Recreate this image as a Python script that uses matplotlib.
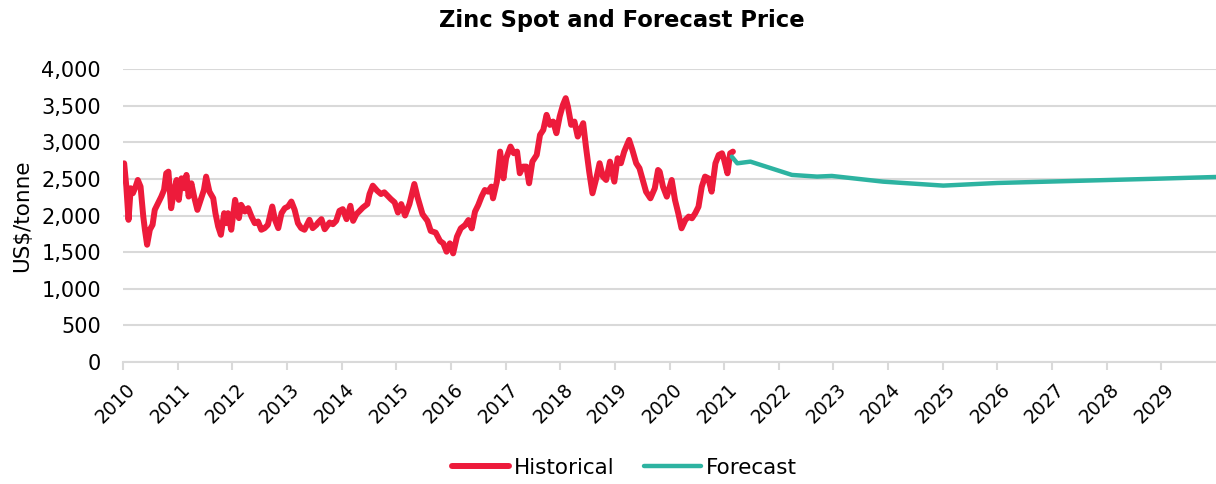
import numpy as np
import matplotlib.pyplot as plt
import matplotlib.transforms as mtransforms

# spot price (US$/tonne), x in decimal years
hist_years = [
    2010.02, 2010.06, 2010.10, 2010.14, 2010.18, 2010.23, 2010.27, 2010.32, 2010.37, 2010.40,
    2010.44, 2010.49, 2010.54, 2010.58, 2010.64, 2010.70, 2010.75, 2010.79, 2010.83, 2010.88,
    2010.93, 2010.98, 2011.02, 2011.07, 2011.12, 2011.16, 2011.20, 2011.25, 2011.30, 2011.36,
    2011.42, 2011.48, 2011.52, 2011.58, 2011.65, 2011.69, 2011.74, 2011.79, 2011.85, 2011.89,
    2011.92, 2011.98, 2012.05, 2012.12, 2012.16, 2012.23, 2012.29, 2012.35, 2012.41, 2012.47,
    2012.53, 2012.59, 2012.65, 2012.73, 2012.78, 2012.84, 2012.90, 2012.96, 2013.02, 2013.08,
    2013.14, 2013.20, 2013.26, 2013.32, 2013.41, 2013.47, 2013.54, 2013.57, 2013.63, 2013.69,
    2013.78, 2013.84, 2013.90, 2013.96, 2014.02, 2014.09, 2014.16, 2014.21, 2014.27, 2014.33,
    2014.39, 2014.47, 2014.51, 2014.57, 2014.65, 2014.72, 2014.78, 2014.84, 2014.90, 2014.97,
    2015.03, 2015.09, 2015.16, 2015.24, 2015.33, 2015.39, 2015.48, 2015.57, 2015.63, 2015.72,
    2015.80, 2015.86, 2015.92, 2015.98, 2016.04, 2016.11, 2016.18, 2016.26, 2016.32, 2016.38,
    2016.44, 2016.50, 2016.56, 2016.62, 2016.68, 2016.74, 2016.77, 2016.84, 2016.90, 2016.96,
    2017.01, 2017.09, 2017.15, 2017.21, 2017.26, 2017.32, 2017.38, 2017.43, 2017.49, 2017.57,
    2017.63, 2017.69, 2017.75, 2017.81, 2017.87, 2017.93, 2017.99, 2018.05, 2018.10, 2018.14,
    2018.20, 2018.26, 2018.32, 2018.38, 2018.42, 2018.47, 2018.53, 2018.59, 2018.66, 2018.72,
    2018.78, 2018.84, 2018.91, 2018.99, 2019.05, 2019.11, 2019.17, 2019.26, 2019.32, 2019.39,
    2019.45, 2019.51, 2019.57, 2019.65, 2019.73, 2019.79, 2019.82, 2019.88, 2019.95, 2020.04,
    2020.10, 2020.16, 2020.22, 2020.29, 2020.35, 2020.41, 2020.47, 2020.53, 2020.59, 2020.65,
    2020.71, 2020.77, 2020.84, 2020.90, 2020.96, 2021.00, 2021.06, 2021.11, 2021.16,
]
hist_price = [
    2714, 2395, 1941, 2373, 2305, 2395, 2486, 2395, 1986, 1805,
    1600, 1805, 1873, 2077, 2168, 2259, 2350, 2577, 2600, 2100,
    2327, 2486, 2214, 2509, 2373, 2555, 2259, 2441, 2259, 2077,
    2214, 2350, 2532, 2327, 2236, 2032, 1850, 1736, 2032, 1895,
    2032, 1805, 2214, 1964, 2146, 2055, 2100, 1986, 1895, 1918,
    1805, 1827, 1873, 2123, 1941, 1827, 2032, 2100, 2123, 2191,
    2077, 1895, 1827, 1805, 1941, 1827, 1873, 1904, 1950, 1812,
    1904, 1881, 1927, 2064, 2087, 1950, 2133, 1927, 2018, 2064,
    2110, 2156, 2294, 2408, 2339, 2294, 2317, 2271, 2225, 2179,
    2041, 2156, 2000, 2156, 2431, 2248, 2018, 1927, 1789, 1766,
    1651, 1619, 1505, 1619, 1482, 1710, 1824, 1870, 1938, 1824,
    2052, 2144, 2258, 2349, 2326, 2395, 2235, 2463, 2874, 2509,
    2783, 2943, 2852, 2874, 2578, 2669, 2669, 2441, 2737, 2829,
    3103, 3171, 3377, 3240, 3285, 3126, 3354, 3514, 3605, 3491,
    3240, 3285, 3080, 3194, 3263, 2943, 2600, 2304, 2509, 2715,
    2532, 2486, 2737, 2463, 2783, 2715, 2874, 3034, 2897, 2715,
    2646, 2486, 2326, 2235, 2372, 2623, 2600, 2395, 2258, 2486,
    2212, 2030, 1825, 1939, 1985, 1962, 2030, 2120, 2395, 2532,
    2509, 2326, 2714, 2828, 2851, 2760, 2577, 2851, 2874,
]

fc_years = [2021.14, 2021.24, 2021.48, 2022.24, 2022.70, 2022.97, 2023.91, 2025.01,
            2026.0, 2027.0, 2028.0, 2029.0, 2030.0]
fc_price = [2805, 2714, 2737, 2555, 2532, 2541, 2463, 2409,
            2445, 2465, 2485, 2505, 2527]

tick_years = list(range(2010, 2030))

RED = '#ED1B3B'
TEAL = '#2DB3A1'
GRID = '#D9D9D9'

plt.rcParams['font.family'] = ['DejaVu Sans']

fig = plt.figure(figsize=(12.16, 4.84), dpi=100)
ax = fig.add_axes([0.1012, 0.2527, 0.8988, 0.6041])

ax.plot(hist_years, hist_price, color=RED, lw=4.3, solid_joinstyle='round',
        solid_capstyle='round', label='Historical', zorder=3)
ax.plot(fc_years, fc_price, color=TEAL, lw=3.2, solid_capstyle='round',
        label='Forecast', zorder=3)

ax.set_xlim(2010, 2030)
ax.set_ylim(0, 4000)
ax.set_yticks(np.arange(0, 4001, 500))
ax.set_yticklabels([f'{v:,}' for v in range(0, 4001, 500)], fontsize=15)
ax.set_xticks(tick_years)
ax.set_xticklabels([str(y) for y in tick_years], rotation=45, ha='right',
                   rotation_mode='anchor', fontsize=13.5)
ax.tick_params(axis='y', length=0, pad=16)
ax.tick_params(axis='x', length=6, color=GRID, width=1.5, pad=7)

# nudge rotated year labels a little to the right, like the original
shift = mtransforms.ScaledTranslation(3 / 100, 0, fig.dpi_scale_trans)
for lab in ax.get_xticklabels():
    lab.set_transform(lab.get_transform() + shift)

ax.grid(axis='y', color=GRID, lw=1.5)
ax.set_axisbelow(True)
for side in ['top', 'right', 'left']:
    ax.spines[side].set_visible(False)
ax.spines['bottom'].set_color(GRID)
ax.spines['bottom'].set_linewidth(1.5)

fig.text(0.018, 1 - 216 / 484, 'US$/tonne', rotation=90, fontsize=15.5,
         ha='center', va='center')
fig.text(0.511, 1 - 21 / 484, 'Zinc Spot and Forecast Price', fontsize=16.3,
         fontweight='bold', ha='center', va='center')

fig.legend(loc='center', bbox_to_anchor=(0.5136, 1 - 468 / 484), ncol=2, frameon=False,
           fontsize=15.5, handlelength=2.65, handletextpad=0.25, columnspacing=1.35)

fig.savefig('out.png', dpi=100)
